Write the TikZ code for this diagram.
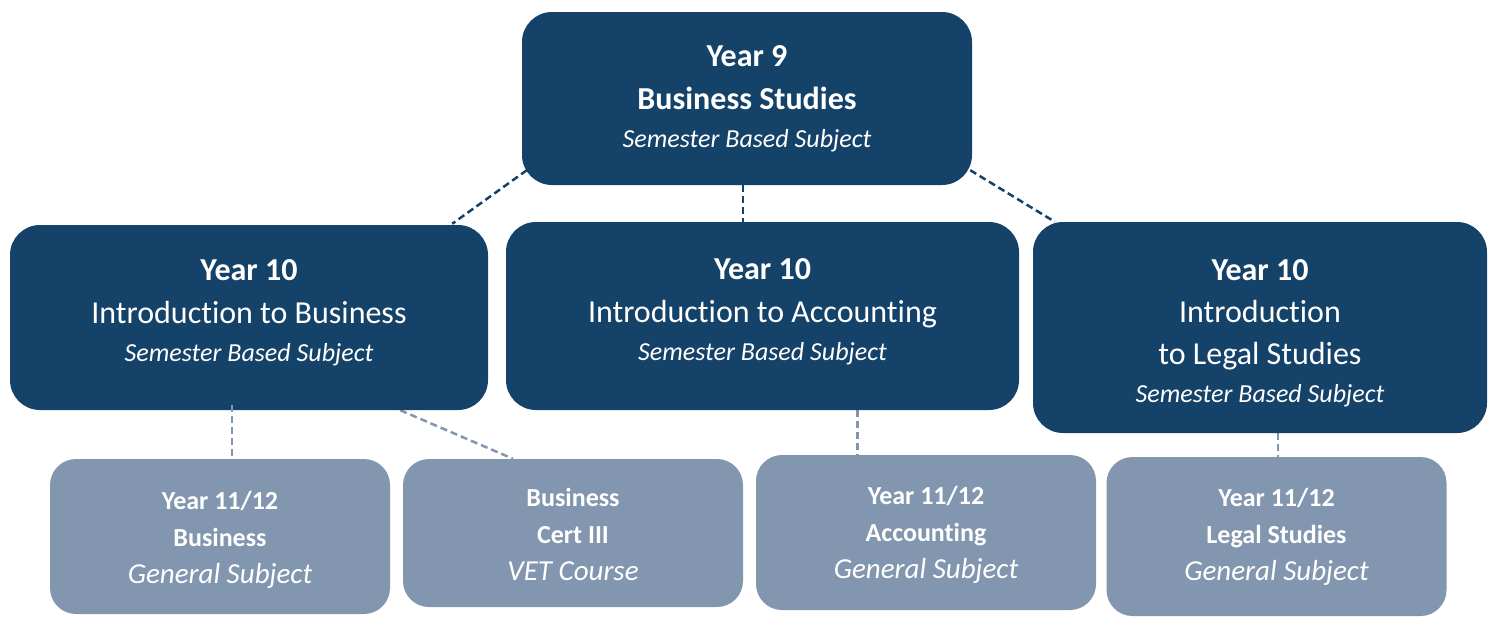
\documentclass[tikz,border=0pt]{standalone}
\usepackage{fontspec}
\setmainfont{Carlito}[Ligatures=NoCommon]
\usetikzlibrary{backgrounds,calc}
\definecolor{navy}{RGB}{21,66,104}
\definecolor{slate}{RGB}{131,150,175}
\newcommand{\sbs}{{\fontsize{26}{30}\selectfont\itshape Semester Based Subject}}
\newcommand{\gs}{{\fontsize{29}{37}\selectfont\itshape General Subject}}
% move a block of lines up or down, keeping its size
\newcommand{\lift}[2]{\raisebox{#1}[\height][\depth]{\begin{tabular}{@{}c@{}}#2\end{tabular}}}

\begin{document}
\begin{tikzpicture}[x=1pt,y=-1pt,
    dnode/.style={fill=navy, rounded corners=30pt, text=white, align=center, inner sep=0pt, font=\fontsize{32}{43}\selectfont},
    lnode/.style={fill=slate, rounded corners=26pt, text=white, align=center, inner sep=0pt, minimum width=340pt, font=\fontsize{26}{37}\selectfont},
    dlink/.style={draw=navy, line width=2.5pt, dash pattern=on 7pt off 4pt},
    llink/.style={draw=slate, line width=2.5pt, dash pattern=on 7pt off 4pt}]
    \useasboundingbox (0,0) rectangle (1493,616);

    \node[dnode, minimum width=450pt, minimum height=173pt] (y9) at (747,98.5) {\textbf{Year 9}\\\textbf{Business Studies}\\[-5pt]\sbs};
    \node[dnode, minimum width=478pt, minimum height=185pt] (bus10) at (249,317.5) {\lift{5pt}{\textbf{Year 10}\\Introduction to Business\\[-5pt]\sbs}};
    \node[dnode, minimum width=513pt, minimum height=188pt] (acc10) at (762.5,316) {\lift{5pt}{\textbf{Year 10}\\Introduction to Accounting\\[-5pt]\sbs}};
    \node[dnode, minimum width=454pt, minimum height=211pt, font=\fontsize{32}{42}\selectfont] (leg10) at (1260,327.5) {\lift{-6pt}{\textbf{Year 10}\\Introduction\\to Legal Studies\\[-4pt]\sbs}};

    \node[lnode, minimum height=155pt] (bus12) at (220,536.5) {\lift{-3pt}{\textbf{Year 11/12}\\\textbf{Business}\\\gs}};
    \node[lnode, minimum height=148pt] (cert) at (573,533) {\lift{-3pt}{\textbf{Business}\\\textbf{Cert III}\\{\fontsize{29}{37}\selectfont\itshape VET Course}}};
    \node[lnode, minimum height=155pt] (acc12) at (926,532.5) {\lift{-2pt}{\textbf{Year 11/12}\\\textbf{Accounting}\\\gs}};
    \node[lnode, minimum height=159pt] (leg12) at (1276.5,536.5) {\textbf{Year 11/12}\\\textbf{Legal Studies}\\\gs};

    \coordinate (c9) at ($(y9.south)+(-4,0)$);
    \coordinate (cb) at ($(bus10.south)+(-17,-5)$);
    \coordinate (ca) at ($(acc10.south)+(95,0)$);
    \coordinate (cl) at ($(leg12.north)+(1.5,0)$);

    \begin{scope}[on background layer]
    \draw[dlink] ($(y9.south west)+(5,-15)$) -- ($(bus10.north east)+(-36,-1)$);
    \draw[dlink] (c9) -- (c9 |- acc10.north);
    \draw[dlink] ($(y9.south east)+(-2,-15)$) -- ($(leg10.north west)+(22,0)$);
    \draw[llink] ($(bus10.south east)+(-88,0)$) -- ($(cert.north)+(-60,0)$);
    \draw[llink] (ca) -- (ca |- acc12.north);
    \draw[llink] (cl |- leg10.south) -- (cl);
    \end{scope}
    \draw[llink] (cb) -- (cb |- bus12.north);
\end{tikzpicture}
\end{document}
